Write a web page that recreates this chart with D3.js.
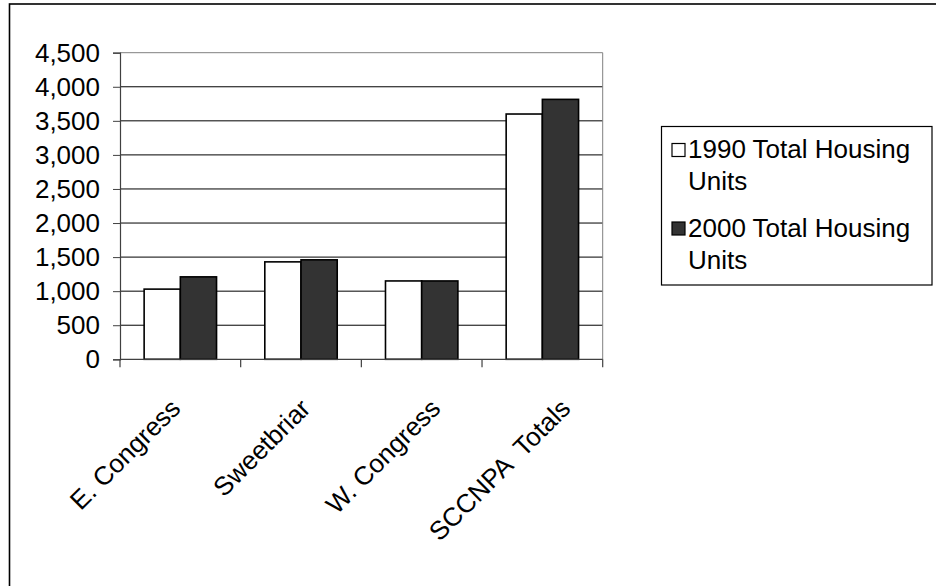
<!DOCTYPE html>
<html>
<head>
<meta charset="utf-8">
<script src="https://cdn.jsdelivr.net/npm/d3@7"></script>
<style>
  html, body { margin: 0; padding: 0; background: #fff; }
  svg { display: block; }
  text { font-family: "Liberation Sans", Arial, sans-serif; fill: #000; }
</style>
</head>
<body>
<svg id="chart" width="936" height="586"></svg>
<script>
// Housing units by neighborhood, 1990 vs 2000
const categories = ["E. Congress", "Sweetbriar", "W. Congress", "SCCNPA  Totals"];
const seriesNames = ["1990 Total Housing Units", "2000 Total Housing Units"];
const legendLines = [["1990 Total Housing", "Units"], ["2000 Total Housing", "Units"]];
const units1990 = [1030, 1430, 1150, 3600];
const units2000 = [1210, 1460, 1150, 3815];
const yTicks = [0, 500, 1000, 1500, 2000, 2500, 3000, 3500, 4000, 4500];
const seriesFill = ["#ffffff", "#333333"];

const values = [units1990, units2000];
const svg = d3.select("#chart");
const fontSize = 26;

// outer chart frame
svg.append("rect")
  .attr("x", 9.5).attr("y", 4)
  .attr("width", 1000).attr("height", 700)
  .attr("fill", "none").attr("stroke", "#000").attr("stroke-width", 1.6);

const plot = { left: 120, right: 602.7, top: 52.7, bottom: 359.3 };

const x = d3.scaleBand()
  .domain(categories)
  .range([plot.left, plot.right])
  .paddingInner(0.4)
  .paddingOuter(0.2);

const x1 = d3.scaleBand()
  .domain(seriesNames)
  .range([0, x.bandwidth()]);

const y = d3.scaleLinear()
  .domain([0, 4500])
  .range([plot.bottom, plot.top]);

// label anchors along the category axis
const xLabel = d3.scalePoint()
  .domain(categories)
  .range([182, 572]);

const fmt = d3.format(",");

// gridlines
svg.append("g")
  .selectAll("line")
  .data(yTicks.slice(1))
  .join("line")
  .attr("x1", plot.left).attr("x2", plot.right)
  .attr("y1", d => y(d)).attr("y2", d => y(d))
  .attr("stroke", d => d === 4500 ? "#808080" : "#000")
  .attr("stroke-width", 1);

// plot area right edge
svg.append("line")
  .attr("x1", plot.right).attr("x2", plot.right)
  .attr("y1", plot.top).attr("y2", plot.bottom)
  .attr("stroke", "#808080").attr("stroke-width", 1);

// y axis
const yAxis = d3.axisLeft(y)
  .tickValues(yTicks)
  .tickFormat(fmt)
  .tickSize(7)
  .tickPadding(13);

const gy = svg.append("g")
  .attr("transform", `translate(${plot.left},0)`)
  .call(yAxis);
gy.select(".domain").attr("stroke", "#404040").attr("stroke-width", 1.2);
gy.selectAll(".tick line").attr("stroke", "#404040");
gy.selectAll(".tick text")
  .attr("font-size", fontSize)
  .attr("font-family", "Liberation Sans, Arial, sans-serif")
  .attr("fill", "#000");

// bars
const groups = svg.append("g")
  .selectAll("g")
  .data(categories)
  .join("g")
  .attr("transform", d => `translate(${x(d)},0)`);

groups.selectAll("rect")
  .data((c, i) => seriesNames.map((s, j) => ({ s, j, v: values[j][i] })))
  .join("rect")
  .attr("x", d => x1(d.s))
  .attr("y", d => y(d.v))
  .attr("width", x1.bandwidth())
  .attr("height", d => y(0) - y(d.v))
  .attr("fill", d => seriesFill[d.j])
  .attr("stroke", "#000")
  .attr("stroke-width", 1.6);

// x axis baseline and tick marks between categories
const xTickPos = [plot.left, ...categories.map(c => x(c) + x.bandwidth() + x.step() * x.paddingInner() / 2).slice(0, -1), plot.right];
svg.append("line")
  .attr("x1", plot.left).attr("x2", plot.right)
  .attr("y1", plot.bottom).attr("y2", plot.bottom)
  .attr("stroke", "#404040").attr("stroke-width", 1.2);
svg.append("g")
  .selectAll("line")
  .data(xTickPos)
  .join("line")
  .attr("x1", d => d).attr("x2", d => d)
  .attr("y1", plot.bottom).attr("y2", plot.bottom + 8)
  .attr("stroke", "#404040").attr("stroke-width", 1.2);

// rotated category labels
svg.append("g")
  .selectAll("text")
  .data(categories)
  .join("text")
  .attr("transform", d => `translate(${xLabel(d)},410) rotate(-45)`)
  .attr("text-anchor", "end")
  .attr("font-size", fontSize)
  .attr("xml:space", "preserve")
  .style("white-space", "pre")
  .text(d => d);

// legend
const legend = svg.append("g");
legend.append("rect")
  .attr("x", 661.5).attr("y", 126.5)
  .attr("width", 270.5).attr("height", 158.5)
  .attr("fill", "#fff").attr("stroke", "#000").attr("stroke-width", 1.2);

const legendRowY = [143.5, 222];
const legendItems = legend.selectAll("g.item")
  .data(seriesNames)
  .join("g")
  .attr("class", "item");

legendItems.append("rect")
  .attr("x", 672).attr("y", (d, i) => legendRowY[i])
  .attr("width", 13).attr("height", 13)
  .attr("fill", (d, i) => seriesFill[i])
  .attr("stroke", "#000").attr("stroke-width", 1.2);

legendItems.each(function (d, i) {
  const g = d3.select(this);
  legendLines[i].forEach((line, k) => {
    g.append("text")
      .attr("x", 688)
      .attr("y", legendRowY[i] + 14.5 + k * 32)
      .attr("font-size", fontSize)
      .text(line);
  });
});
</script>
</body>
</html>
